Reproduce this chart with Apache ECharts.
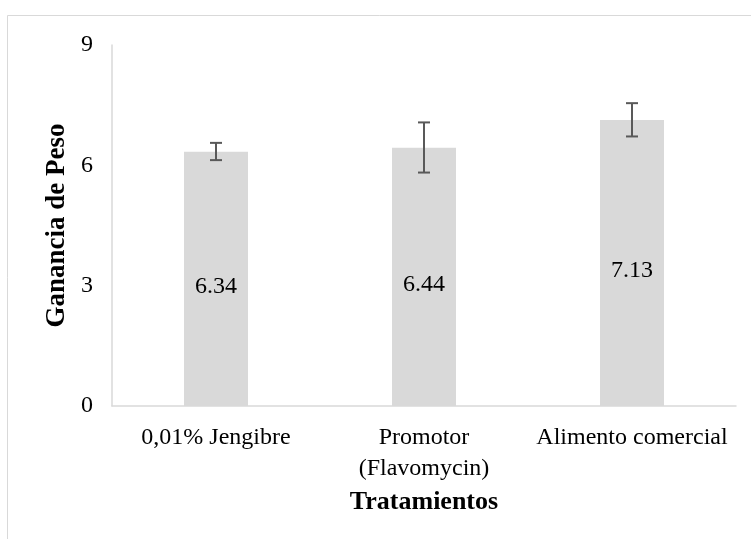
<!DOCTYPE html>
<html>
<head>
<meta charset="utf-8">
<script src="https://cdn.jsdelivr.net/npm/echarts@6/dist/echarts.min.js"></script>
<style>html,body{margin:0;padding:0;background:#fff}#c{width:751px;height:539px}</style>
</head>
<body>
<div id="c"></div>
<script>
const categories = ['0,01% Jengibre', 'Promotor\n(Flavomycin)', 'Alimento comercial'];
const means = [6.34, 6.44, 7.13];
const errLow = [6.13, 5.82, 6.72];
const errHigh = [6.56, 7.07, 7.55];
const yTicks = [0, 3, 6, 9];

const chart = echarts.init(document.getElementById('c'), null, {renderer: 'canvas'});
const font = '"Liberation Serif", "Times New Roman", serif';
chart.setOption({
  backgroundColor: '#fff',
  animation: false,
  textStyle: {fontFamily: font},
  graphic: [{
    type: 'rect', silent: true,
    shape: {x: 7.5, y: 15.5, width: 800, height: 600},
    style: {fill: 'none', stroke: '#d9d9d9', lineWidth: 1}
  }],
  grid: {left: 112, right: 15, top: 45, bottom: 133},
  xAxis: {
    type: 'category',
    data: categories,
    axisLine: {lineStyle: {color: '#d9d9d9', width: 1.5}},
    axisTick: {show: false},
    axisLabel: {interval: 0, color: '#000', fontSize: 24, fontFamily: font, margin: 16, lineHeight: 31},
    name: 'Tratamientos',
    nameLocation: 'middle',
    nameGap: 82,
    nameTextStyle: {color: '#000', fontSize: 26, fontWeight: 'bold', fontFamily: font}
  },
  yAxis: {
    type: 'value',
    min: yTicks[0], max: yTicks[yTicks.length - 1], interval: 3,
    axisLine: {show: true, lineStyle: {color: '#d9d9d9', width: 1.5}},
    axisTick: {show: false},
    splitLine: {show: false},
    axisLabel: {color: '#000', fontSize: 24, fontFamily: font, margin: 19},
    name: 'Ganancia de Peso',
    nameLocation: 'middle',
    nameGap: 40,
    nameRotate: 90,
    nameTextStyle: {color: '#000', fontSize: 27, fontWeight: 'bold', fontFamily: font}
  },
  series: [{
    type: 'bar',
    data: means,
    barWidth: 64,
    itemStyle: {color: '#d9d9d9'},
    label: {show: true, position: 'inside', offset: [0, 8], color: '#000', fontSize: 24, fontFamily: font,
      formatter: p => p.value.toFixed(2)}
  }, {
    type: 'custom',
    data: means.map((m, i) => [i, errLow[i], errHigh[i]]),
    z: 10,
    renderItem: function (params, api) {
      const lo = api.coord([api.value(0), api.value(1)]);
      const hi = api.coord([api.value(0), api.value(2)]);
      const w = 6;
      const st = {stroke: '#595959', lineWidth: 2};
      return {type: 'group', children: [
        {type: 'line', shape: {x1: hi[0], y1: hi[1], x2: lo[0], y2: lo[1]}, style: st},
        {type: 'line', shape: {x1: hi[0] - w, y1: hi[1], x2: hi[0] + w, y2: hi[1]}, style: st},
        {type: 'line', shape: {x1: lo[0] - w, y1: lo[1], x2: lo[0] + w, y2: lo[1]}, style: st}
      ]};
    }
  }]
});
</script>
</body>
</html>
